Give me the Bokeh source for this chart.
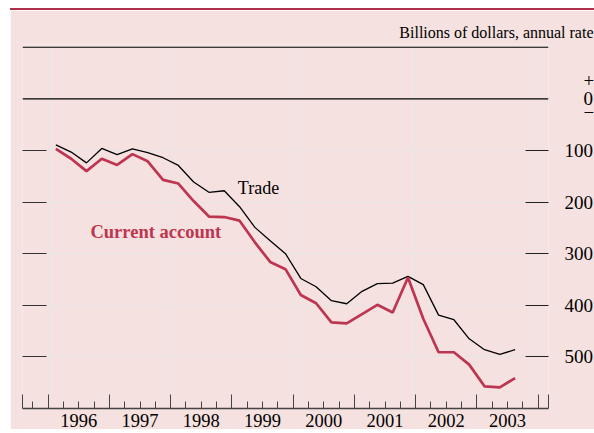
from bokeh.plotting import figure
from bokeh.models import (Range1d, LinearAxis, FixedTicker, Span, Label, ColumnDataSource)
from bokeh.embed import file_html
from bokeh.resources import INLINE

# ---- data (billions of dollars, annual rate; quarterly 1996Q1-2003Q3) ----
quarters = [y + (q - 0.5) / 4 for y in range(1996, 2004) for q in range(1, 5)][:31]
trade = [-89, -103, -124, -96, -108, -97, -104, -114,
         -129, -161, -181, -178, -209, -249, -275, -300,
         -348, -364, -391, -397, -373, -358, -357, -344,
         -360, -419, -428, -465, -486, -495, -486]
current_account = [-97, -116, -140, -116, -128, -107, -121, -157,
                   -164, -198, -228, -229, -236, -278, -316, -330,
                   -380, -396, -433, -435, -417, -399, -414, -346,
                   -426, -491, -491, -515, -557, -559, -541]
years = list(range(1996, 2004))
y_ticks = [-100, -200, -300, -400, -500]
y_label_ticks = [35.5, 0, -26] + y_ticks
y_labels = ["\u2007\u2007+", "\u2007\u20070", "\u2007\u2007\u2212",
            "100", "200", "300", "400", "500"]

PINK = "#f5e1df"
RED = "#bd3550"
FONT = "Liberation Serif"
X0, X1 = 1995.58, 2004.17

src = ColumnDataSource(dict(x=quarters, trade=trade, ca=current_account))

p = figure(frame_width=526, frame_height=364,
           x_range=Range1d(X0, X1), y_range=Range1d(-600, 105.4),
           x_axis_location=None, y_axis_location=None,
           toolbar_location=None, output_backend="svg",
           min_border_left=12, min_border_top=34, min_border_right=46,
           min_border_bottom=10)
p.title.text = "Billions of dollars, annual rate"
p.title.align = "right"
p.title.offset = -45
p.title.standoff = 8
p.title.text_font = FONT
p.title.text_font_size = "16px"
p.title.text_font_style = "normal"
p.title.text_color = "black"
p.background_fill_color = PINK
p.border_fill_color = PINK
p.outline_line_color = None
p.styles = {"margin-left": "10px", "margin-top": "8px",
            "border-top": "2px solid #b0304a"}

# reference lines (+100 and zero)
for loc in (100, 0):
    p.add_layout(Span(location=loc, dimension="width", line_color="black", line_width=1.1))

# left tick marks
lax = LinearAxis(ticker=FixedTicker(ticks=y_ticks, minor_ticks=[]),
                 major_label_overrides={t: "" for t in y_ticks},
                 major_tick_in=24, major_tick_out=0, major_label_standoff=0,
                 major_label_text_font_size="0px",
                 axis_line_color=None, major_tick_line_color="#333333",
                 minor_tick_line_color=None)
p.add_layout(lax, "left")

# right tick marks
rax = LinearAxis(ticker=FixedTicker(ticks=y_ticks, minor_ticks=[]),
                 major_label_overrides={t: "" for t in y_ticks},
                 major_tick_in=23, major_tick_out=0, major_label_standoff=0,
                 major_label_text_font_size="0px",
                 axis_line_color=None, major_tick_line_color="#222222",
                 minor_tick_line_color=None)
p.add_layout(rax, "right")

# right labels
rlab = LinearAxis(ticker=FixedTicker(ticks=y_label_ticks, minor_ticks=[]),
                  major_label_overrides=dict(zip(y_label_ticks, y_labels)),
                  major_tick_in=0, major_tick_out=0, major_label_standoff=16,
                  major_label_text_font=FONT, major_label_text_font_size="19px",
                  major_label_text_color="black",
                  axis_line_color=None, major_tick_line_color=None,
                  minor_tick_line_color=None)
p.add_layout(rlab, "right")

# bottom ticks (year boundaries, frame edges and quarters)
bounds = [X0 + 0.004] + years + [2004, X1 - 0.004]
qticks = [y + q / 4 for y in range(1995, 2005) for q in range(4)]
bax = LinearAxis(ticker=FixedTicker(ticks=bounds, minor_ticks=qticks),
                 major_label_overrides={b: "" for b in bounds},
                 major_label_text_font_size="0px", major_label_standoff=0,
                 major_tick_in=14, major_tick_out=0,
                 minor_tick_in=7, minor_tick_out=0,
                 axis_line_color="#444444", axis_line_width=1.3,
                 major_tick_line_color="#444444", minor_tick_line_color="#444444")
p.add_layout(bax, "below")

# year labels centred in each year
mids = [y + 0.5 for y in years]
yax = LinearAxis(ticker=FixedTicker(ticks=mids, minor_ticks=[]),
                 major_label_overrides={m: str(y) for m, y in zip(mids, years)},
                 major_tick_in=0, major_tick_out=0, major_label_standoff=5,
                 major_label_text_font=FONT, major_label_text_font_size="18.5px",
                 major_label_text_color="black",
                 axis_line_color=None, major_tick_line_color=None,
                 minor_tick_line_color=None)
p.add_layout(yax, "below")

# series
p.line("x", "trade", source=src, line_color="black", line_width=1.3)
p.line("x", "ca", source=src, line_color=RED, line_width=2.7)

# texts
p.add_layout(Label(x=1999.096, y=-172.5, text="Trade", text_font=FONT,
                   text_font_size="18px", text_color="black",
                   text_baseline="middle", text_align="left"))
p.add_layout(Label(x=1996.69, y=-258, text="Current account", text_font=FONT,
                   text_font_size="18.5px", text_font_style="bold", text_color=RED,
                   text_baseline="middle", text_align="left"))

open("out.html", "w").write(file_html(p, INLINE))
